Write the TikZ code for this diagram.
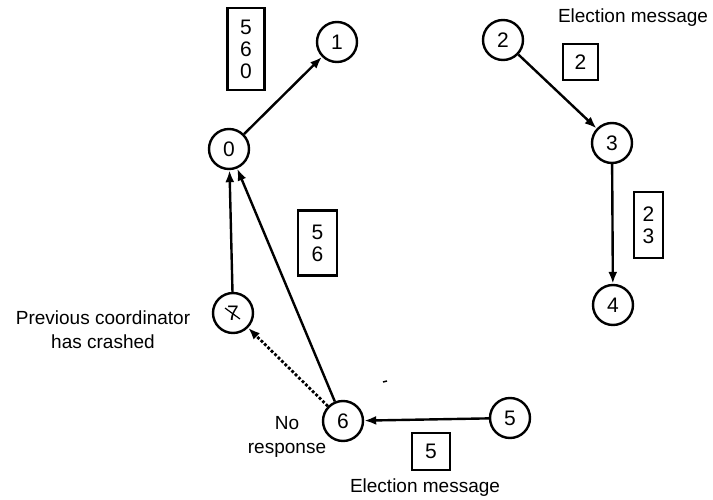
\documentclass[tikz,border=0pt]{standalone}
\usepackage{fontspec}
\setmainfont{Liberation Sans}
\usetikzlibrary{arrows.meta}
\begin{document}
\begin{tikzpicture}[x=1pt,y=-1pt,
  proc/.style={circle,draw,line width=2.4pt,minimum size=40pt,inner sep=0pt,font=\fontsize{21}{22}\selectfont},
  msgbox/.style={draw,line width=2.6pt,inner sep=0pt,font=\fontsize{21}{22}\selectfont,align=center},
  lbl/.style={font=\fontsize{19}{24}\selectfont,inner sep=0pt},
  arr/.style={line width=2.4pt,-{Latex[length=12pt,width=9pt]}},
  dotarr/.style={line width=2.8pt,dotted,-{Latex[length=12pt,width=9pt]}}]
\useasboundingbox (0,0) rectangle (713,500);
\node[proc] (n1) at (337,42) {1};
\node[proc] (n0) at (229,149) {0};
\node[proc] (n7) at (233,313) {7};
\draw[line width=1.2pt] (n7.center) ++(-8,-5) -- ++(15,11);
\node[proc] (n6) at (343,421) {6};
\node[proc] (n5) at (510,418) {5};
\node[proc] (n2) at (503,40) {2};
\node[proc] (n3) at (612,143) {3};
\node[proc] (n4) at (613,305) {4};

\node[msgbox,minimum width=37pt,minimum height=82pt] (b560) at (246,49) {5\\6\\0};
\node[msgbox,minimum width=39pt,minimum height=65pt] (b56) at (317.5,243) {5\\6};
\node[msgbox,minimum width=35pt,minimum height=36pt] (b2) at (580.5,62) {2};
\node[msgbox,minimum width=29pt,minimum height=66pt] (b23) at (648.5,225) {2\\3};
\node[msgbox,minimum width=38pt,minimum height=37pt] (b5) at (431,451.5) {5};

\node[lbl] (t1) at (633,18) {Election message};
\node[lbl] (t2) at (425,488) {Election message};
\node[lbl,align=center] (t3) at (103,330) {Previous coordinator\\has crashed};
\node[lbl,align=center] (t4) at (287,437) {No\\response};

\draw[arr] (n0) -- (n1);
\draw[arr] (n2) -- (n3);
\draw[arr] (n3) -- (n4);
\draw[arr] (n5) -- (n6);
\draw[arr] (n6) -- (n0);
\draw[arr] (n7) -- (n0);
\draw[dotarr] (n6) -- (n7);
\coordinate (d1) at (383,382);
\coordinate (d2) at (387,381);
\draw[line width=1.5pt] (d1) -- (d2);
\end{tikzpicture}
\end{document}
